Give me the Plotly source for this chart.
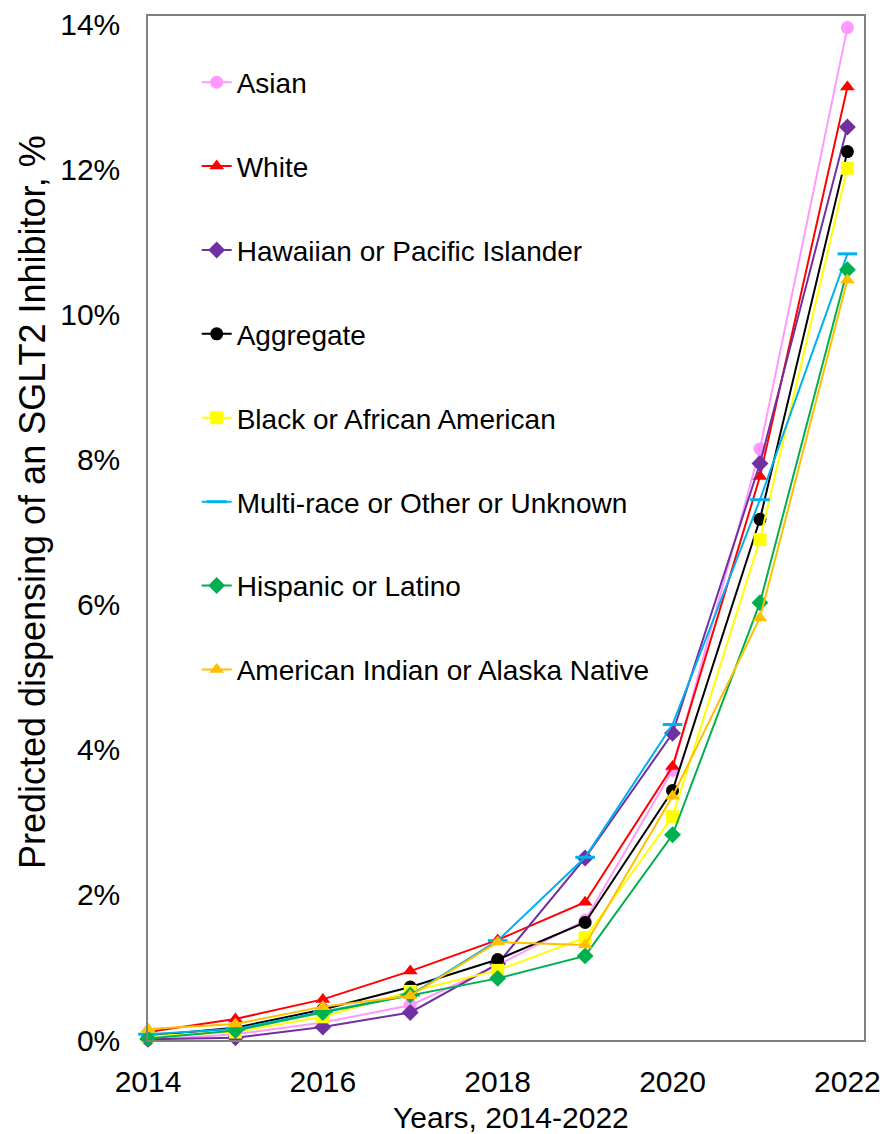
import plotly.graph_objects as go

years = [2014, 2015, 2016, 2017, 2018, 2019, 2020, 2021, 2022]

asian = [0.00, 0.08, 0.24, 0.48, 1.03, 1.65, 3.72, 8.15, 13.96]
white = [0.11, 0.29, 0.56, 0.95, 1.38, 1.90, 3.77, 7.77, 13.14]
hawaiian = [0.01, 0.03, 0.18, 0.38, 1.05, 2.51, 4.23, 7.95, 12.59]
aggregate = [0.06, 0.17, 0.42, 0.73, 1.11, 1.62, 3.44, 7.18, 12.25]
black = [0.05, 0.11, 0.32, 0.67, 0.96, 1.41, 3.08, 6.90, 12.02]
multi = [0.08, 0.15, 0.39, 0.62, 1.37, 2.52, 4.35, 7.45, 10.84]
hispanic = [0.02, 0.13, 0.38, 0.62, 0.85, 1.16, 2.83, 6.03, 10.62]
aian = [0.15, 0.22, 0.46, 0.61, 1.35, 1.31, 3.36, 5.82, 10.48]

series = [
    ("Asian", asian, "#FF99FF", "circle"),
    ("White", white, "#FF0000", "triangle-up"),
    ("Hawaiian or Pacific Islander", hawaiian, "#7030A0", "diamond"),
    ("Aggregate", aggregate, "#000000", "circle"),
    ("Black or African American", black, "#FFFF00", "square"),
    ("Multi-race or Other or Unknown", multi, "#00B0F0", "line-ew"),
    ("Hispanic or Latino", hispanic, "#00B050", "diamond"),
    ("American Indian or Alaska Native", aian, "#FFC000", "triangle-up"),
]

fig = go.Figure()
for i, (name, vals, color, sym) in enumerate(series):
    if sym == "line-ew":
        marker = dict(symbol=sym, size=14, color=color, line=dict(color=color, width=3))
    else:
        marker = dict(symbol=sym, size=13, color=color, line=dict(width=0))
    fig.add_trace(go.Scatter(
        x=years, y=vals, name=name, mode="lines+markers",
        line=dict(color=color, width=2),
        marker=marker,
        cliponaxis=False,
        legendgroup=f"g{i}",
    ))

font = "Liberation Sans, Arial, sans-serif"
fig.update_layout(
    width=886, height=1134,
    margin=dict(l=148, r=22, t=16, b=94, autoexpand=False),
    paper_bgcolor="white", plot_bgcolor="white",
    font=dict(family=font, size=28, color="black"),
    showlegend=True,
    legend=dict(
        x=0.068, y=0.9595, xanchor="left", yanchor="top",
        bgcolor="rgba(0,0,0,0)", tracegroupgap=44.5,
        font=dict(size=28, color="black"),
        itemwidth=30,
    ),
    xaxis=dict(
        range=[2014, 2022.19], tickmode="linear", tick0=2014, dtick=2,
        showgrid=False, zeroline=False, showline=True, mirror=True,
        linecolor="#808080", linewidth=1.5, ticks="", automargin=False,
        tickfont=dict(size=30), ticklabelstandoff=14,
    ),
    yaxis=dict(
        range=[0, 14.12], tickmode="linear", tick0=0, dtick=2, ticksuffix="%",
        showgrid=False, zeroline=False, showline=True, mirror=True,
        linecolor="#808080", linewidth=1.5, ticks="", automargin=False,
        tickfont=dict(size=30), ticklabelstandoff=20,
    ),
    annotations=[
        dict(
            text="Predicted dispensing of an SGLT2 Inhibitor, %",
            xref="paper", yref="paper", x=-0.161, y=0.525,
            xanchor="center", yanchor="middle", textangle=-90,
            showarrow=False, font=dict(size=36, family=font, color="black"),
        ),
        dict(
            text="Years, 2014-2022",
            xref="paper", yref="paper", x=0.507, y=-0.0752,
            xanchor="center", yanchor="middle",
            showarrow=False, font=dict(size=30, family=font, color="black"),
        ),
    ],
)

fig.write_html("out.html")
